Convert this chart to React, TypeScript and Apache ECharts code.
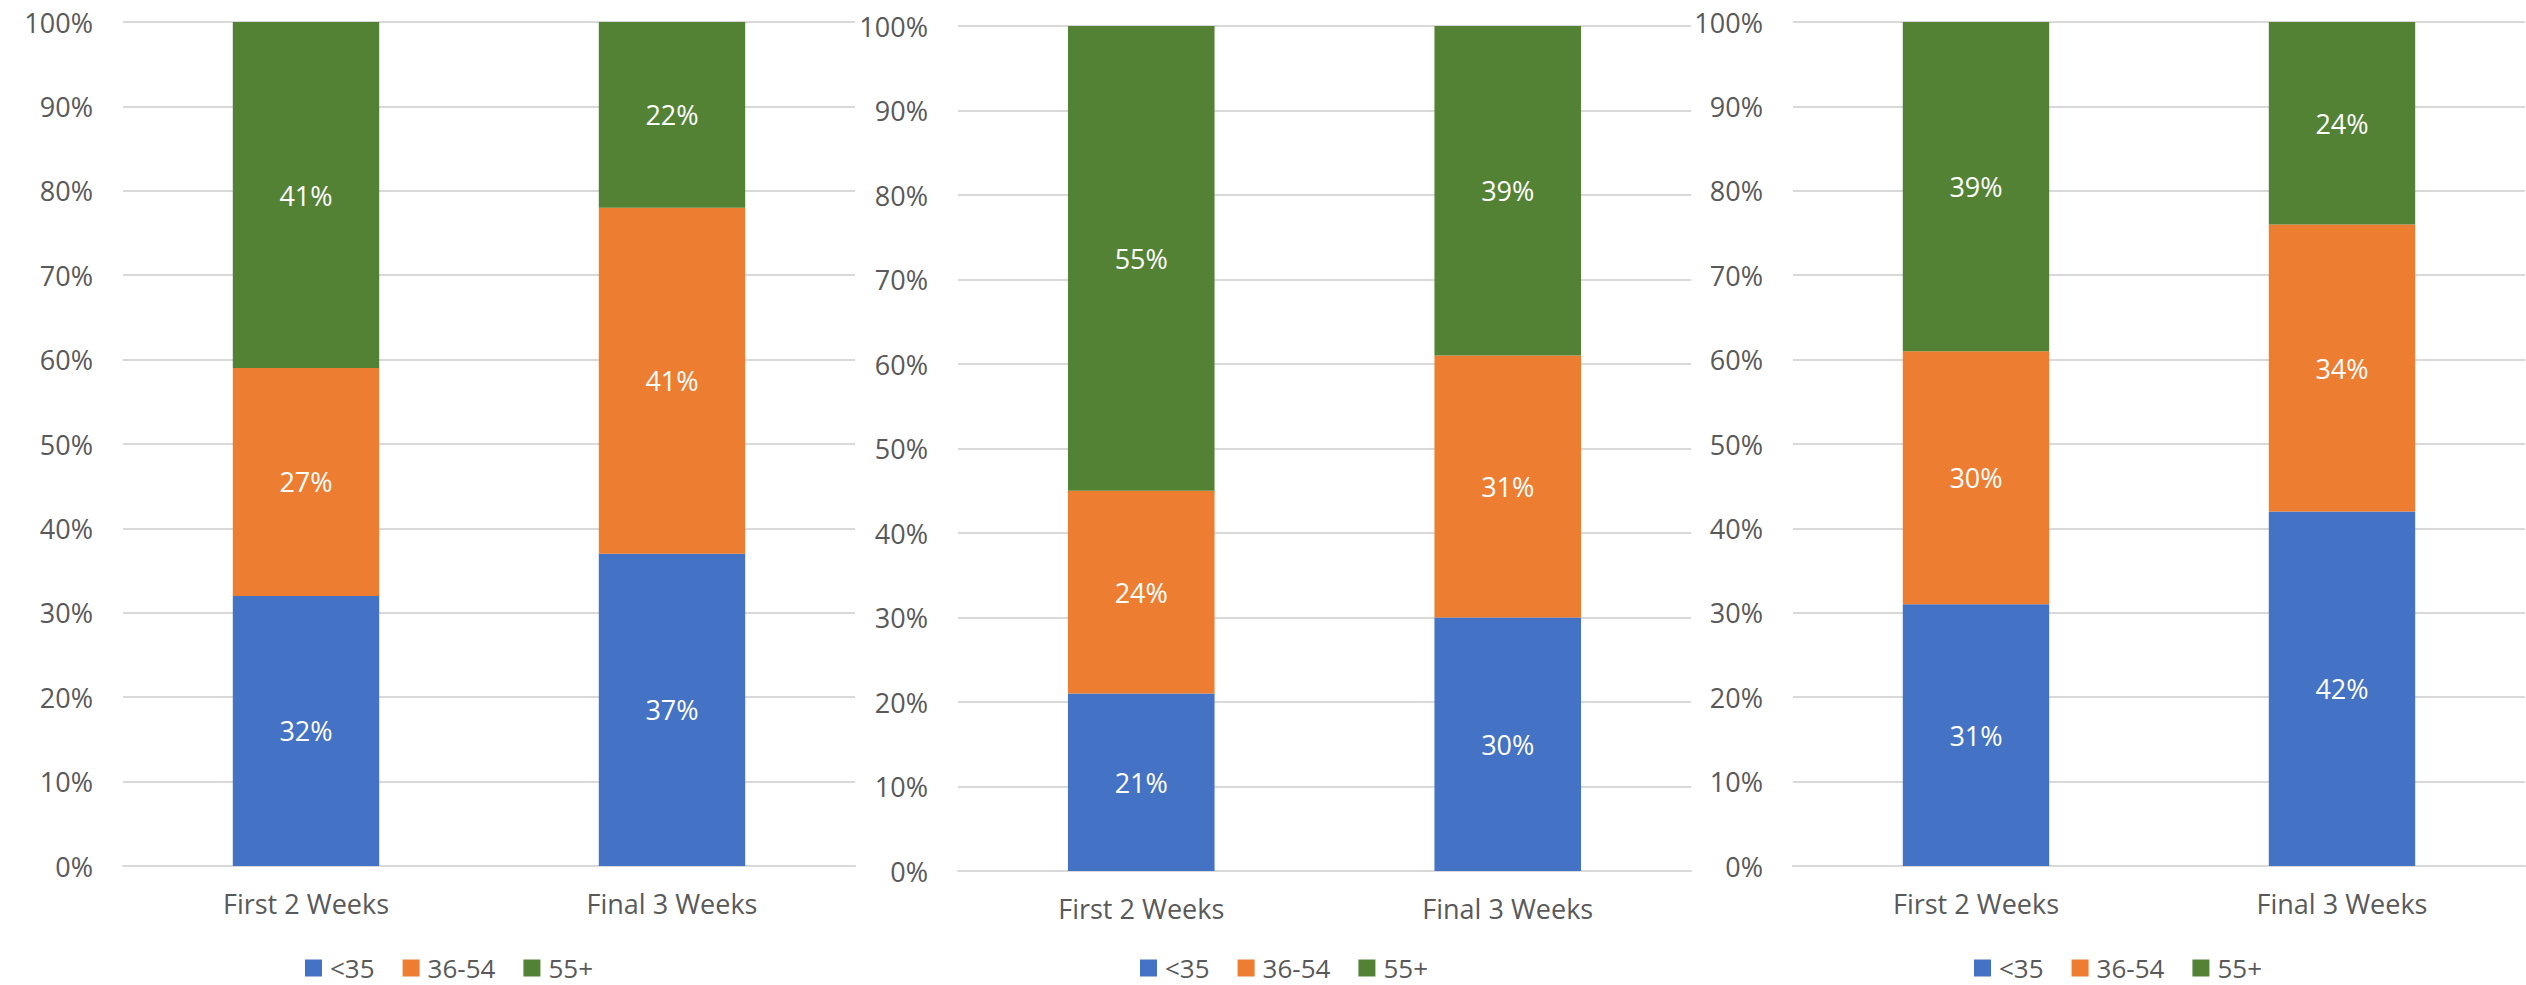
import React, { useEffect, useRef } from "react";
import * as echarts from "echarts";

const categories = ["First 2 Weeks", "Final 3 Weeks"];
const seriesNames = ["<35", "36-54", "55+"];
const colors = ["#4472C4", "#ED7D31", "#548235"];

// panel values: [<35, 36-54, 55+] for each category
const panel1Under35 = [32, 37];
const panel1Mid = [27, 41];
const panel1Over55 = [41, 22];

const panel2Under35 = [21, 30];
const panel2Mid = [24, 31];
const panel2Over55 = [55, 39];

const panel3Under35 = [31, 42];
const panel3Mid = [30, 34];
const panel3Over55 = [39, 24];

const yTicks = [0, 10, 20, 30, 40, 50, 60, 70, 80, 90, 100];

const panels = [
  [panel1Under35, panel1Mid, panel1Over55],
  [panel2Under35, panel2Mid, panel2Over55],
  [panel3Under35, panel3Mid, panel3Over55],
];

const grids = [
  { left: 123, top: 22, width: 732, height: 844 },
  { left: 958, top: 26, width: 733, height: 845 },
  { left: 1793, top: 22, width: 732, height: 844 },
];
const legendPos = [
  { left: 305, top: 955 },
  { left: 1140, top: 955 },
  { left: 1974, top: 955 },
];

const FONT = "'Open Sans', 'Noto Sans', sans-serif";
const FS = 27;
const LFS = 26;

export default function App() {
  const ref = useRef<HTMLDivElement>(null);
  useEffect(() => {
    if (!ref.current) return;
    const chart = echarts.init(ref.current, undefined, { renderer: "svg" });
    const series: any[] = [];
    panels.forEach((vals, p) => {
      vals.forEach((arr, s) => {
        series.push({
          type: "bar",
          name: seriesNames[s],
          xAxisIndex: p,
          yAxisIndex: p,
          stack: "p" + p,
          data: arr,
          barWidth: "40%",
          itemStyle: { color: colors[s] },
          label: {
            show: true,
            position: "inside",
            color: "#FFFFFF",
            fontSize: FS,
            fontFamily: FONT,
            formatter: "{c}%",
          },
        });
      });
    });
    chart.setOption({
      animation: false,
      backgroundColor: "#FFFFFF",
      textStyle: { fontFamily: FONT },
      color: colors,
      grid: grids.map((g) => ({ ...g, containLabel: false })),
      xAxis: grids.map((_, i) => ({
        type: "category",
        gridIndex: i,
        data: categories,
        axisLine: { show: true, lineStyle: { color: "#D9D9D9", width: 2 } },
        axisTick: { show: false },
        axisLabel: { color: "#595959", fontSize: FS, fontFamily: FONT, margin: 24 },
      })),
      yAxis: grids.map((_, i) => ({
        type: "value",
        gridIndex: i,
        min: yTicks[0],
        max: yTicks[yTicks.length - 1],
        interval: 10,
        axisLine: { show: false },
        axisTick: { show: false },
        axisLabel: {
          color: "#595959",
          fontSize: FS,
          fontFamily: FONT,
          margin: 30,
          formatter: "{value}%",
        },
        splitLine: { lineStyle: { color: "#D9D9D9", width: 2 } },
      })),
      legend: legendPos.map((l) => ({
        left: l.left,
        top: l.top,
        padding: 0,
        orient: "horizontal",
        icon: "rect",
        itemWidth: 17,
        itemHeight: 17,
        itemGap: 28,
        data: seriesNames,
        selectedMode: false,
        textStyle: {
          color: "#595959",
          fontSize: LFS,
          fontFamily: FONT,
          lineHeight: LFS,
          padding: [0, 0, 0, 3],
        },
      })),
      series,
    });
    return () => chart.dispose();
  }, []);
  return (
    <div
      ref={ref}
      style={{ position: "absolute", left: 0, top: 0, width: 2526, height: 985 }}
    />
  );
}
